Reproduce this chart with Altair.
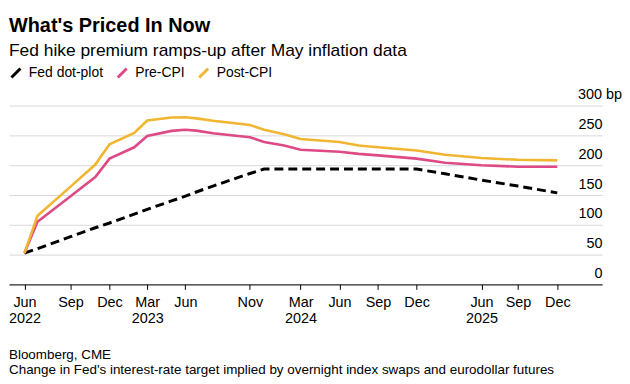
import altair as alt
import pandas as pd

# ---------------- data ----------------
title_text = "What's Priced In Now"
subtitle_text = "Fed hike premium ramps-up after May inflation data"
source_text = "Bloomberg, CME"
note_text = "Change in Fed's interest-rate target implied by overnight index swaps and eurodollar futures"

dates = [
    "2022-06-21", "2022-07-22", "2022-10-09", "2022-12-07", "2023-01-10",
    "2023-03-10", "2023-04-10", "2023-06-07", "2023-07-10", "2023-08-05",
    "2023-09-14", "2023-12-11", "2024-01-14", "2024-03-02", "2024-04-10",
    "2024-07-12", "2024-08-27", "2024-10-12", "2025-01-12", "2025-03-21",
    "2025-06-16", "2025-09-11", "2025-12-14",
]
dot_plot = [52.5, 60, 80, 95, 103, 118, 126, 140, 148, 155, 165, 186, 193.5,
            193.5, 193.5, 193.5, 193.5, 193.5, 193.5, 185.5, 175, 165, 153.5]
pre_cpi = [52.5, 105, 148, 180, 211, 230, 249, 257.5, 259.5, 258, 253.5, 247,
           239, 233, 226, 222.5, 219, 216.5, 211, 204, 200, 197.5, 197.5]
post_cpi = [52.5, 115, 164, 201, 235, 254, 275, 280, 280.5, 278.5, 274.5, 267.5,
            259.5, 252, 244, 239, 233, 230, 224.5, 217.5, 212, 209, 208]

tick_month = ["Jun", "", "Sep", "", "Dec", "", "Mar", "", "Jun", "", "", "Nov", "",
              "", "Mar", "Jun", "", "Sep", "Dec", "", "Jun", "Sep", "Dec"]
tick_year = ["2022", "", "", "", "", "", "2023", "", "", "", "", "", "",
             "", "2024", "", "", "", "", "", "2025", "", ""]

series_names = ["Fed dot-plot", "Pre-CPI", "Post-CPI"]
series_colors = ["#000000", "#de4a85", "#f1b631"]
y_ticks = [0, 50, 100, 150, 200, 250, 300]
x_domain = ["2022-05-15", "2026-03-31"]

FONT = "Liberation Sans"

# ---------------- build ----------------
rows = []
for name, vals in zip(series_names, [dot_plot, pre_cpi, post_cpi]):
    for d, v in zip(dates, vals):
        rows.append({"date": d, "value": v, "series": name})
df = pd.DataFrame(rows)


def dt(s):
    return alt.DateTime(year=int(s[:4]), month=int(s[5:7]), date=int(s[8:10]), utc=True)


tick_values = [dt(d) for d, m in zip(dates, tick_month) if m]
parts = []
for d, m, yr in zip(dates, tick_month, tick_year):
    if m:
        lab = f"['{m}', '{yr}']" if yr else f"'{m}'"
        parts.append(f"utcFormat(datum.value, '%Y-%m-%d') == '{d}' ? {lab}")
label_expr = " : ".join(parts) + " : ''"

x_enc = alt.X(
    "date:T",
    scale=alt.Scale(type="utc", domain=[dt(x_domain[0]), dt(x_domain[1])]),
    axis=alt.Axis(
        values=tick_values, labelExpr=label_expr, grid=False,
        domain=True, domainColor="#000000", domainWidth=1,
        ticks=True, tickColor="#000000", tickSize=5, tickWidth=1,
        labelFont=FONT, labelFontSize=14.5, labelColor="#000000",
        labelPadding=6, labelLineHeight=16, labelFlush=False,
        labelOverlap=False, title=None,
    ),
)
y_enc = alt.Y(
    "value:Q",
    scale=alt.Scale(domain=[0, 300], nice=False, zero=True),
    axis=alt.Axis(
        orient="right", values=y_ticks, grid=True, gridColor="#d8d8d8",
        gridWidth=1, domain=False, ticks=False, tickSize=0,
        labelAlign="right", labelBaseline="alphabetic", labelOffset=-7,
        labelPadding={"condition": {"test": "datum.value == 300", "value": 19.5}, "value": 0},
        labelExpr="datum.value == 300 ? '300 bp' : datum.label",
        labelFont=FONT, labelFontSize=14.5, labelColor="#000000",
        labelFlush=False, labelOverlap=False, title=None,
    ),
)
color_enc = alt.Color(
    "series:N",
    scale=alt.Scale(domain=series_names, range=series_colors),
    legend=alt.Legend(
        title=None, orient="none", legendX=0, legendY=-40, direction="horizontal",
        symbolType="M-1,1L1,-1", symbolSize=81, symbolStrokeWidth=3,
        labelFont=FONT, labelFontSize=14, labelColor="#000000",
        labelOffset=6, columnPadding=8,
    ),
    sort=series_names,
)

base = alt.Chart(df).encode(x=x_enc, y=y_enc, color=color_enc)
solid = base.transform_filter("datum.series != 'Fed dot-plot'").mark_line(strokeWidth=2.6)
dashed = base.transform_filter("datum.series == 'Fed dot-plot'").mark_line(
    strokeWidth=3, strokeDash=[9, 5]
)

notes = alt.Chart(pd.DataFrame({"t": [source_text + "\n" + note_text]})).mark_text(
    align="left", baseline="top", lineBreak="\n", lineHeight=15,
    font=FONT, fontSize=13.5, color="#000000",
).encode(text="t:N", x=alt.value(0), y=alt.value(244))

chart = alt.layer(dashed, solid, notes).properties(
    width=597, height=180,
    padding={"left": 0, "top": 6, "right": 0, "bottom": 0},
    title=alt.TitleParams(
        text=title_text, subtitle=subtitle_text, anchor="start", frame="group",
        font=FONT, fontSize=20, fontWeight="bold", color="#000000",
        subtitleFont=FONT, subtitleFontSize=17.5, subtitleColor="#000000",
        subtitlePadding=7, offset=6,
    ),
).configure_view(stroke=None)

chart.save("out.html", embed_options={"renderer": "svg", "actions": False})
